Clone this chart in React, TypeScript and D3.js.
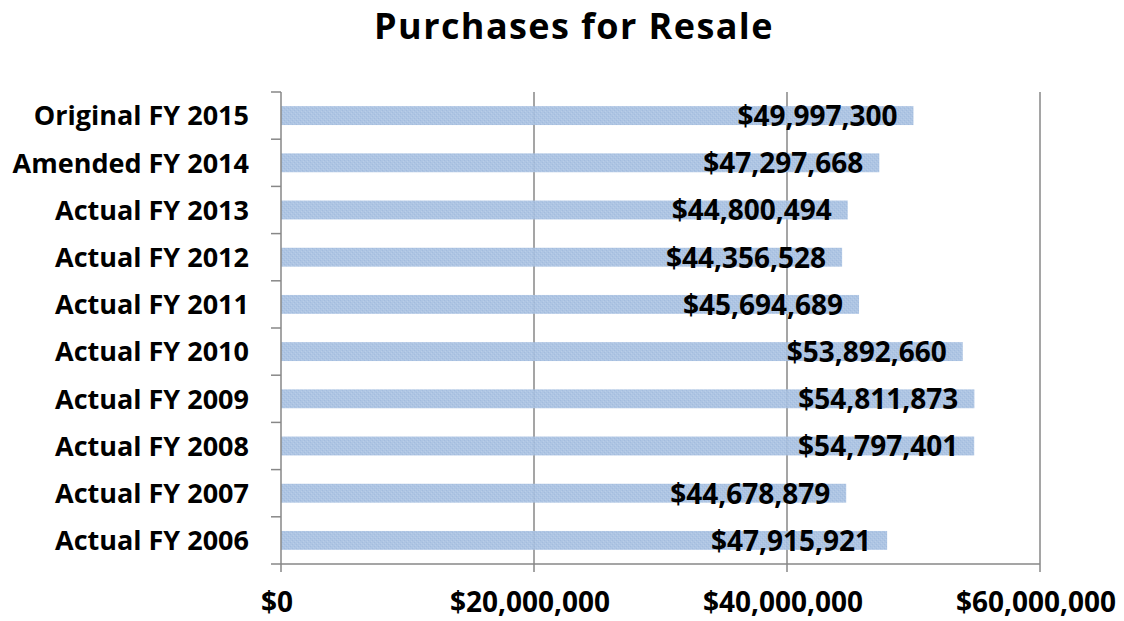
import React from "react";
import * as d3 from "d3";

const categories = [
  "Original FY 2015",
  "Amended FY 2014",
  "Actual FY 2013",
  "Actual FY 2012",
  "Actual FY 2011",
  "Actual FY 2010",
  "Actual FY 2009",
  "Actual FY 2008",
  "Actual FY 2007",
  "Actual FY 2006",
];
const values = [
  49997300, 47297668, 44800494, 44356528, 45694689, 53892660, 54811873,
  54797401, 44678879, 47915921,
];
const xTicks = [0, 20000000, 40000000, 60000000];
const title = "Purchases for Resale";

const W = 1124;
const H = 621;
const left = 281;
const right = 1040;
const top = 92;
const bottom = 564;
const FONT = "'Open Sans', sans-serif";

export default function App() {
  const x = d3.scaleLinear().domain([0, 60000000]).range([left, right]);
  const y = d3.scaleBand<string>().domain(categories).range([top, bottom]).paddingInner(0).paddingOuter(0);
  const bw = y.bandwidth();
  const barH = bw * 0.4;
  const fmt = (v: number) => "$" + d3.format(",")(v);
  const bounds = d3.range(categories.length + 1).map((i) => top + i * bw);
  const axisColor = "#878787";

  return (
    <svg width={W} height={H} style={{ position: "absolute", left: 0, top: 0, background: "#fff" }}>
      <defs>
        <pattern id="hatch" width="4" height="4" patternUnits="userSpaceOnUse">
          <rect width="4" height="4" fill="#a7c0e1" />
          <rect x="0" y="0" width="1" height="1" fill="#9bb6db" />
          <rect x="2" y="2" width="1" height="1" fill="#9bb6db" />
          <rect x="1" y="3" width="1" height="1" fill="#b3c9e6" />
          <rect x="3" y="1" width="1" height="1" fill="#b3c9e6" />
        </pattern>
      </defs>
      <text x={574} y={39} textAnchor="middle" fontFamily={FONT} fontWeight="bold" fontSize={36} letterSpacing={1.4} fill="#000">
        {title}
      </text>
      {/* gridlines */}
      {xTicks.slice(1).map((t) => (
        <line key={t} x1={x(t)} x2={x(t)} y1={top} y2={bottom + 8} stroke={axisColor} strokeWidth={1.5} />
      ))}
      {/* bars */}
      {categories.map((c, i) => (
        <rect
          key={c}
          x={x(0)}
          y={(y(c) as number) + bw / 2 - barH / 2}
          width={x(values[i]) - x(0)}
          height={barH}
          fill="url(#hatch)"
          opacity={0.92}
        />
      ))}
      {/* axes */}
      <line x1={left} x2={left} y1={top} y2={bottom + 8} stroke={axisColor} strokeWidth={1.5} />
      <line x1={left} x2={right} y1={bottom} y2={bottom} stroke={axisColor} strokeWidth={1.5} />
      {bounds.map((b, i) => (
        <line key={i} x1={left - 10} x2={left} y1={b} y2={b} stroke={axisColor} strokeWidth={1.5} />
      ))}
      {/* category labels */}
      {categories.map((c) => (
        <text
          key={c}
          x={249}
          y={(y(c) as number) + bw / 2}
          dy="0.36em"
          textAnchor="end"
          fontFamily={FONT}
          fontWeight="bold"
          fontSize={27}
          fill="#000"
        >
          {c}
        </text>
      ))}
      {/* value labels */}
      {categories.map((c, i) => (
        <text
          key={c}
          x={x(values[i]) - 16}
          y={(y(c) as number) + bw / 2}
          dy="0.37em"
          textAnchor="end"
          fontFamily={FONT}
          fontWeight="bold"
          fontSize={28}
          fill="#000"
        >
          {fmt(values[i])}
        </text>
      ))}
      {/* x tick labels */}
      {xTicks.map((t) => (
        <text
          key={t}
          x={x(t) - 4}
          y={612}
          textAnchor="middle"
          fontFamily={FONT}
          fontWeight="bold"
          fontSize={28}
          fill="#000"
        >
          {fmt(t)}
        </text>
      ))}
    </svg>
  );
}
